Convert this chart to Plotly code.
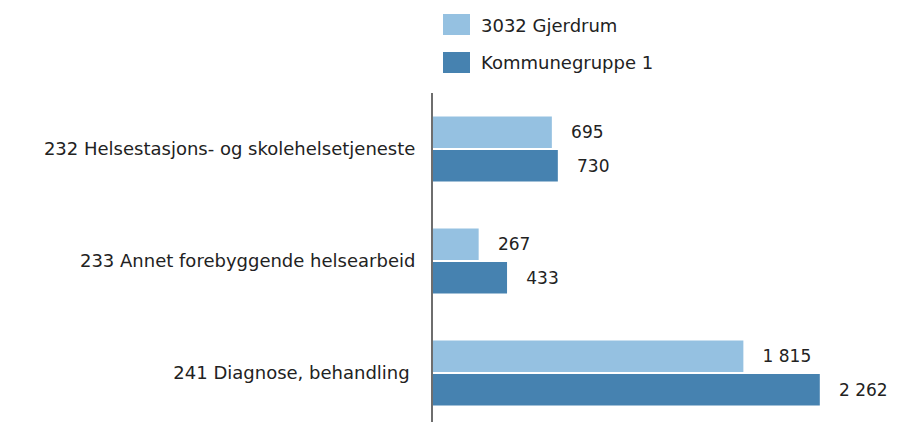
import plotly.graph_objects as go

# Kategorier og verdier lest av figuren
categories = ['232 Helsestasjons- og skolehelsetjeneste',
              '233 Annet forebyggende helsearbeid',
              '241 Diagnose, behandling ']
series_names = ['3032 Gjerdrum', 'Kommunegruppe 1']
gjerdrum = [695, 267, 1815]
kommunegruppe = [730, 433, 2262]
colors = ['#95c1e1', '#4682b0']

# siden har 8 px marg rundt figuren
W, H = 889, 414
L, T, R = 425, 85, 10
PW, PH = W - L - R, H - T
FS = 18


def fmt(v):
    # norsk tusenskille, med litt luft foran
    return '\u00a0\u00a0\u00a0' + f'{v:,}'.replace(',', ' ')


def px(x):
    return (x - 8 - L) / PW


def py(y):
    return 1 + (T - (y - 8)) / PH


fig = go.Figure()
for name, vals, col in zip(series_names, [gjerdrum, kommunegruppe], colors):
    fig.add_trace(go.Bar(
        y=categories, x=vals, name=name, orientation='h',
        marker=dict(color=col, line=dict(width=0)),
        text=[fmt(v) for v in vals], textposition='outside',
        textfont=dict(size=17, color='#222'), cliponaxis=False,
    ))

# egendefinert legende (store fargeruter)
for i, (name, col) in enumerate(zip(series_names, colors)):
    top = 14 + i * 38
    fig.add_shape(type='rect', xref='paper', yref='paper',
                  x0=px(443), x1=px(470), y0=py(top), y1=py(top + 21),
                  fillcolor=col, line=dict(width=0))
    fig.add_annotation(text=name, xref='paper', yref='paper',
                       x=px(479), y=py(top + 11),
                       xanchor='left', yanchor='middle', showarrow=False,
                       font=dict(size=FS, color='#222'))

fig.update_layout(
    width=W, height=H,
    margin=dict(l=L, r=R, t=T, b=0),
    barmode='group', bargap=0.4, bargroupgap=0.06,
    showlegend=False,
    plot_bgcolor='white', paper_bgcolor='white',
    font=dict(family='DejaVu Sans, Arial, sans-serif', size=FS, color='#222'),
    xaxis=dict(range=[0, PW / 0.171], visible=False, showgrid=False, zeroline=False),
    yaxis=dict(range=[2.4375, -0.5], showline=True, linecolor='#6e6e6e', linewidth=2,
               showgrid=False, ticks='', ticklabelstandoff=12,
               tickfont=dict(size=FS, color='#222')),
)

fig.write_html('out.html')
